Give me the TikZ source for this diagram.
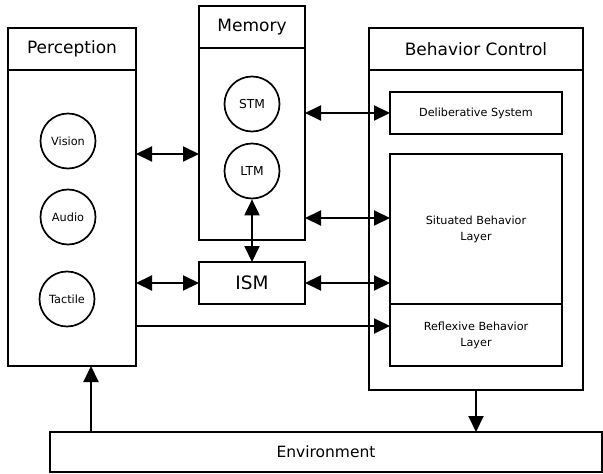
\documentclass[tikz,border=0pt]{standalone}
\usepackage{fontspec}
\setmainfont{DejaVu Sans}
\usetikzlibrary{arrows.meta, positioning}

\begin{document}
\begin{tikzpicture}[x=1pt, y=-1pt, node distance=0pt,
        BX/.style = {draw, line width=2pt, inner sep=0pt, outer sep=0pt, align=center},
        HD/.style = {BX, minimum height=42pt, font=\fontsize{17}{20}\selectfont},
        CR/.style = {circle, draw, line width=1.7pt, minimum size=55pt, inner sep=0pt,
                     font=\fontsize{11.3}{13}\selectfont},
        SB/.style = {BX, minimum width=172pt, font=\fontsize{11.2}{16}\selectfont},
        TIP/.tip  = {Triangle[length=16pt, width=15pt]},
        AR/.style = {line width=2pt, -TIP},
        DA/.style = {line width=2pt, TIP-TIP} ]
\useasboundingbox (0,0) rectangle (603,474);

   \node (perc)   [BX, minimum width=128pt, minimum height=296pt] at (72,218) {};
   \node (perchd) [HD, minimum width=128pt, above=of perc] {Perception};
   \node (vis) [CR] at (68,141) {Vision};
   \node (aud) [CR] at (68,217) {Audio};
   \node (tac) [CR] at (67,299) {Tactile};

   \node (mem)   [BX, minimum width=106pt, minimum height=192pt] at (252,144) {};
   \node (memhd) [HD, minimum width=106pt, above=of mem] {Memory};
   \node (stm) [CR, font=\fontsize{12.3}{14}\selectfont] at (252,104) {STM};
   \node (ltm) [CR, font=\fontsize{12.3}{14}\selectfont] at (252,171) {LTM};

   \node (ism) [BX, minimum width=106pt, minimum height=42pt,
                font=\fontsize{18.5}{22}\selectfont] at (252,283) {ISM};

   \node (bc)   [BX, minimum width=214pt, minimum height=320pt] at (476,230) {};
   \node (bchd) [HD, minimum width=214pt, above=of bc] {Behavior Control};
   \node (delib) [SB, minimum height=42pt] at (476,113) {Deliberative System};
   \node (sit)   [SB, minimum height=150pt] at (476,229) {Situated Behavior\\Layer};
   \node (refl)  [SB, minimum height=62pt, below=of sit] {Reflexive Behavior\\Layer};

   \node (env) [BX, minimum width=552pt, minimum height=40pt,
                font=\fontsize{15.5}{18}\selectfont] at (326,452) {Environment};

   \draw[DA] (perc.east |- 0,154) -- (mem.west |- 0,154);
   \draw[DA] (perc.east |- ism) -- (ism);
   \draw[DA] (ltm) -- (ism);
   \draw[DA] (mem.east |- delib) -- (delib);
   \draw[DA] (mem.east |- 0,218) -- (sit.west |- 0,218);
   \draw[DA] (ism) -- (sit.west |- ism);
   \draw[AR] (perc.east |- 0,326) -- (refl.west |- 0,326);
   \draw[AR] (env.north -| 91,0) -- (perc.south -| 91,0);
   \draw[AR] (bc.south) -- (env.north -| bc.south);
\end{tikzpicture}
\end{document}
